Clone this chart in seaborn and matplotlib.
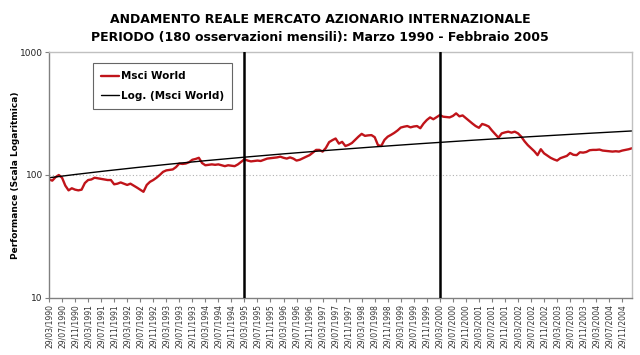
import numpy as np
import pandas as pd
import matplotlib
matplotlib.use('Agg')
import matplotlib.pyplot as plt
import seaborn as sns

# valori mensili Msci World (base 100), marzo 1990 - febbraio 2005
msci_world = [
    92, 90, 96, 100, 95, 82, 75, 78, 76, 75,
    76, 86, 91, 92, 95, 94, 93, 92, 91, 91,
    84, 85, 87, 85, 83, 85, 82, 79, 76, 73,
    83, 88, 91, 95, 100, 106, 109, 110, 111, 116,
    124, 123, 124, 127, 133, 135, 138, 125, 120, 121,
    122, 121, 122, 120, 118, 120, 119, 118, 122, 128,
    134, 131, 129, 130, 131, 130, 133, 136, 137, 138,
    139, 141, 138, 136, 139, 136, 131, 133, 137, 141,
    145, 152, 160, 160, 155, 166, 185, 192, 198, 180,
    186, 172, 176, 182, 193, 205, 216, 208, 210, 211,
    203, 175, 172, 193, 205, 212, 220, 230, 243, 247,
    250, 244, 248, 250, 240, 262, 280, 294, 284, 295,
    307, 298, 296, 294, 302, 317, 300, 305, 290, 275,
    262, 250, 242, 260, 255, 248, 230, 215, 201, 218,
    222, 225, 221, 225, 218, 205, 188, 175, 165, 156,
    145, 162, 150, 144, 138, 134, 131, 137, 140, 143,
    151, 146, 145, 153, 152, 154, 159, 160, 160, 161,
    158, 157, 156, 155, 156, 155, 158, 160, 162, 165,
]
start_year = 1990
start_month = 3
tick_step = 4
period_marks = [60, 120]   # marzo 1995, marzo 2000

dates = []
for k in range(len(msci_world)):
    m = (start_month - 1 + k) % 12 + 1
    y = start_year + (start_month - 1 + k) // 12
    dates.append(f'29/{m:02d}/{y}')

df = pd.DataFrame({'idx': np.arange(len(msci_world)), 'msci': msci_world, 'data': dates})
coef = np.polyfit(df['idx'], df['msci'], 1)
df['trend'] = np.polyval(coef, df['idx'])

sns.set_style('white')
plt.rcParams['font.family'] = ['DejaVu Sans']

fig = plt.figure(figsize=(6.4, 3.55), dpi=100)
ax = fig.add_axes([0.0766, 0.1606, 0.9109, 0.6929])

ax.axhline(100, color='#b0b0b0', lw=0.8, ls=(0, (1, 2)), zorder=0)
sns.lineplot(data=df, x='idx', y='msci', ax=ax, color='#c0141a', lw=1.7, label='Msci World')
sns.lineplot(data=df, x='idx', y='trend', ax=ax, color='black', lw=1.0, label='Log. (Msci World)')
for p in period_marks:
    ax.axvline(p, color='black', lw=1.8, zorder=5)

ax.set_yscale('log')
ax.set_ylim(10, 1000)
ax.set_xlim(0, len(msci_world) - 1)
ax.set_yticks([10, 100, 1000])
ax.set_yticklabels(['10', '100', '1000'], fontsize=6.5, color='#222222')
ax.yaxis.set_minor_locator(matplotlib.ticker.NullLocator())

ticks = list(range(0, len(msci_world), tick_step))
ax.set_xticks(ticks)
ax.set_xticklabels([dates[t] for t in ticks], rotation=90, fontsize=5.5, color='#333333')
ax.tick_params(axis='both', direction='out', length=3, width=0.8, color='#808080', pad=1.5, bottom=True, left=True)

ax.set_xlabel('')
ax.set_ylabel('Performance (Scala Logaritmica)', fontsize=6.5, fontweight='bold', labelpad=0, color='black')

for s in ['top', 'right']:
    ax.spines[s].set_color('#c0c0c0')
for s in ['left', 'bottom']:
    ax.spines[s].set_color('#808080')
for s in ax.spines.values():
    s.set_linewidth(1.0)

leg = ax.legend(loc='upper left', bbox_to_anchor=(0.075, 0.955), borderaxespad=0, fancybox=False,
                frameon=True, prop={'weight': 'bold', 'size': 7.5}, handlelength=1.7, borderpad=0.8,
                labelspacing=0.9, handletextpad=0.2)
leg.get_frame().set_edgecolor('#404040')
leg.get_frame().set_linewidth(0.8)
for t in leg.get_texts():
    t.set_color('black')

fig.text(0.5, 0.945, 'ANDAMENTO REALE MERCATO AZIONARIO INTERNAZIONALE', ha='center', va='center',
         fontsize=9, fontweight='bold', color='black')
fig.text(0.5, 0.895, 'PERIODO (180 osservazioni mensili): Marzo 1990 - Febbraio 2005', ha='center',
         va='center', fontsize=9, fontweight='bold', color='black')

fig.savefig('out.png', dpi=100)
